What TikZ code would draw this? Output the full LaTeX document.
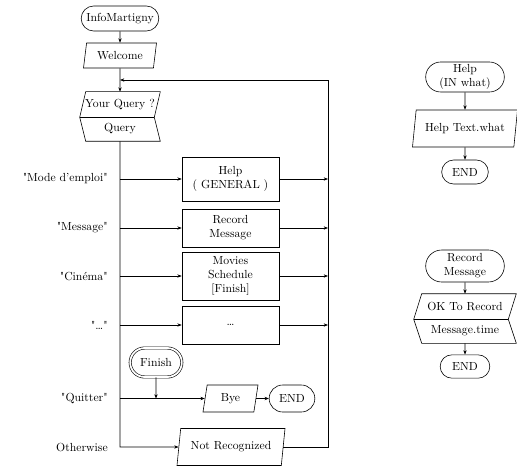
\documentclass[tikz,border=0pt]{standalone}
\usepackage{tikz}
\usetikzlibrary{shapes, arrows.meta, calc}
% straight double quote (no tex ligatures)
\font\quotefont="[lmroman10-regular]" at 10pt
\newcommand{\tq}{{\quotefont"}}

\begin{document}
\begin{tikzpicture}[
    >={Stealth[length=1.3mm,width=1mm]},
    line width=0.5pt,
    term/.style={draw, rounded rectangle, minimum height=0.75cm, inner sep=1pt, align=center},
    io/.style={draw, trapezium, trapezium left angle=74, trapezium right angle=106,
      trapezium stretches body, minimum height=0.75cm, inner sep=1pt},
    proc/.style={draw, rectangle, minimum width=2.91cm, align=center, inner sep=1pt},
    lbl/.style={anchor=east, inner sep=0pt},
    slot/.style={minimum width=2.22cm, inner sep=0pt}
  ]
  \useasboundingbox (0,0) rectangle (15.51,-13.98);

  % Main program
  \node[term, minimum width=2.4cm] (info) at (3.6,-0.555) {InfoMartigny};
  \node[io, minimum width=2.19cm] (welcome) at (3.6,-1.665) {Welcome};
  \node[slot, minimum height=0.75cm] (ask) at (3.6,-3.135) {Your Query ?};
  \node[slot, minimum height=0.72cm] (query) at (3.6,-3.87) {Query};
  \draw ($(ask.north west)+(0.09,0)$) -- ($(ask.north east)+(0.09,0)$)
    -- ($(ask.south east)+(-0.09,0)$) -- ($(query.south east)+(0.09,0)$)
    -- ($(query.south west)+(0.09,0)$) -- ($(ask.south west)+(-0.09,0)$) -- cycle;
  \draw ($(ask.south west)+(-0.09,0)$) -- ($(ask.south east)+(-0.09,0)$);

  \coordinate (loop) at (9.84,-2.4);

  % Menu choices
  \node[proc, minimum height=1.32cm] (help) at (6.915,-5.37) {Help\\( GENERAL )};
  \node[proc, minimum height=1.14cm] (rec) at (6.915,-6.84) {Record\\Message};
  \node[proc, minimum height=1.44cm] (movies) at (6.915,-8.28) {Movies\\Schedule\\{[Finish]}};
  \node[proc, minimum height=1.14cm] (dots) at (6.915,-9.75) {\dots};

  \node[lbl] (lhelp) at (3.24,-5.37) {\tq Mode d'emploi\tq};
  \node[lbl] (lrec) at (3.24,-6.84) {\tq Message\tq};
  \node[lbl] (lmovies) at (3.24,-8.28) {\tq Cinéma\tq};
  \node[lbl] (ldots) at (3.24,-9.75) {\tq\dots\tq};
  \node[lbl] (lquit) at (3.24,-11.955) {\tq Quitter\tq};
  \node[lbl] (lother) at (3.24,-13.41) {Otherwise};

  % Leaving
  \node[term, double, double distance=1.5pt, minimum width=1.62cm, minimum height=0.87cm] (finish) at (4.68,-10.875) {Finish};
  \node[io, trapezium left angle=72, trapezium right angle=108, minimum width=1.65cm, minimum height=0.81cm] (bye) at (6.915,-11.955) {Bye};
  \node[term, minimum width=1.44cm, minimum height=0.81cm] (endq) at (8.76,-11.955) {END};
  \node[io, minimum width=3.24cm, minimum height=1.11cm] (notrec) at (6.93,-13.41) {Not Recognized};

  \draw[->] (info) -- (welcome);
  \draw[->] (welcome) -- (ask);
  \draw[->] (query) -- (query |- notrec) -- (notrec);
  \foreach \n in {help, rec, movies, dots} {
    \draw[->] (query |- \n) -- (\n);
    \draw[->] (\n) -- (\n -| loop);
  }
  \draw[->] (query |- bye) -- (bye);
  \draw[->] (finish) -- (finish |- bye);
  \draw[->] (bye) -- (endq);
  \draw[->] (notrec) -| (loop) -- (loop -| query);

  % Help procedure
  \node[term, minimum width=2.43cm, minimum height=0.9cm] (helpin) at (13.95,-2.31) {Help\\(IN what)};
  \node[io, minimum width=3.15cm, minimum height=1.11cm] (helptext) at (13.95,-3.855) {Help Text.what};
  \node[term, minimum width=1.47cm, minimum height=0.72cm] (helpend) at (13.95,-5.16) {END};
  \draw[->] (helpin) -- (helptext);
  \draw[->] (helptext) -- (helpend);

  % Record procedure
  \node[term, minimum width=2.43cm, minimum height=0.96cm] (recin) at (13.95,-7.98) {Record\\Message};
  \node[slot, minimum width=2.82cm, minimum height=0.75cm] (ok) at (13.95,-9.195) {OK To Record};
  \node[slot, minimum width=2.82cm, minimum height=0.72cm] (msg) at (13.95,-9.93) {Message.time};
  \draw ($(ok.north west)+(0.12,0)$) -- ($(ok.north east)+(0.12,0)$)
    -- ($(ok.south east)+(-0.12,0)$) -- ($(msg.south east)+(0.12,0)$)
    -- ($(msg.south west)+(0.12,0)$) -- ($(ok.south west)+(-0.12,0)$) -- cycle;
  \draw ($(ok.south west)+(-0.12,0)$) -- ($(ok.south east)+(-0.12,0)$);
  \node[term, minimum width=1.56cm, minimum height=0.7cm] (recend) at (13.95,-10.995) {END};
  \draw[->] (recin) -- (ok);
  \draw[->] (msg) -- (recend);
\end{tikzpicture}
\end{document}
